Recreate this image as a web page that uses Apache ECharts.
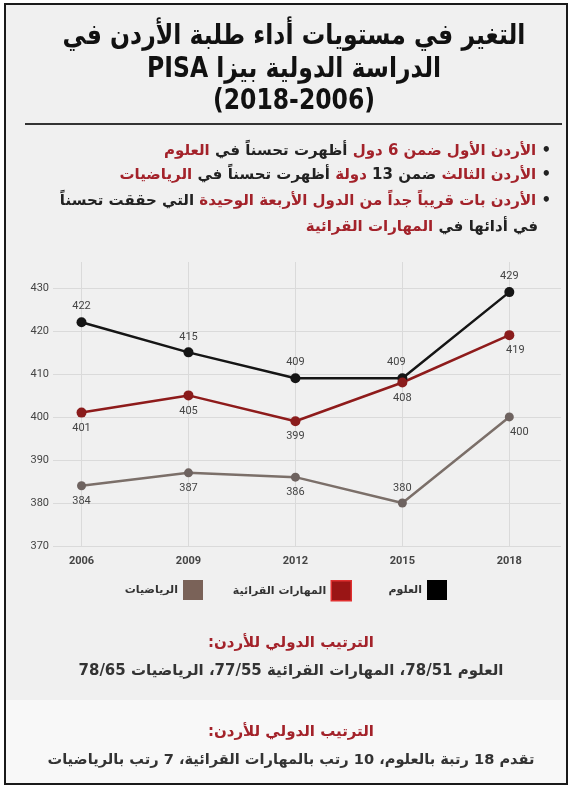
<!DOCTYPE html>
<html><head><meta charset="utf-8">
<script src="https://cdn.jsdelivr.net/npm/echarts@6/dist/echarts.min.js"></script>
<style>html,body{margin:0;padding:0;background:#fff}#c{width:571px;height:788px}</style>
</head><body><div id="c" dir="rtl"></div>
<script>
const years = [2006, 2009, 2012, 2015, 2018];
const science = [422, 415, 409, 409, 429];
const reading = [401, 405, 399, 408, 419];
const math = [384, 387, 386, 380, 400];
const yTicks = [370, 380, 390, 400, 410, 420, 430];
const names = ['العلوم', 'المهارات القرائية', 'الرياضيات'];
const titleLines = ['التغير في مستويات أداء طلبة الأردن في', 'الدراسة الدولية بيزا PISA', '(2018-2006)'];
const rankHeader = 'الترتيب الدولي للأردن:';
const rankLine = 'العلوم 78/51، المهارات القرائية 77/55، الرياضيات 78/65';
const progressLine = 'تقدم 18 رتبة بالعلوم، 10 رتب بالمهارات القرائية، 7 رتب بالرياضيات';

const AR = '"DejaVu Sans", sans-serif';
const RED = '#a3222a';
const DARK = '#222';
const colors = ['#151515', '#8e1b1b', '#7b6f69'];
const mathPos = ['bottom', 'bottom', 'bottom', 'top', 'bottom'];

function pts(vals, posArr, offsets) {
  return years.map((y, i) => {
    const it = { value: [y, vals[i]] };
    const lab = {};
    if (posArr) lab.position = posArr[i];
    if (offsets && offsets[i]) lab.offset = offsets[i];
    it.label = lab;
    return it;
  });
}

const chart = echarts.init(document.getElementById('c'));
const bulletFont = { fontFamily: AR, fontWeight: 'bold', fontSize: 15 };
const rich = { r: Object.assign({ fill: RED }, bulletFont), b: Object.assign({ fill: DARK }, bulletFont) };

function txt(text, x, y, opt, sx) {
  return { type: 'text', x: x, y: y, z: 10, scaleX: sx || 1, style: Object.assign({ text: text, align: 'center', verticalAlign: 'middle', textAlign: 'center', textVerticalAlign: 'middle', fontFamily: AR, fontWeight: 'bold' }, opt) };
}
function bullet(text, x, y) {
  return { type: 'text', x: x, y: y, z: 10, style: { text: text, rich: rich, align: 'right', textAlign: 'right', verticalAlign: 'middle', textVerticalAlign: 'middle' } };
}

const option = {
  backgroundColor: '#ffffff',
  animation: false,
  graphic: { elements: [
    { type: 'rect', z: -10, shape: { x: 5, y: 4, width: 562, height: 780 }, style: { fill: '#f0f0f0', stroke: '#1a1a1a', lineWidth: 2 } },
    { type: 'rect', z: -9, shape: { x: 6, y: 700, width: 560, height: 83 }, style: { fill: '#f8f8f8' } },
    txt(titleLines[0], 294, 37, { fontSize: 28, fill: '#111' }, 0.84),
    txt(titleLines[1], 294, 70, { fontSize: 28, fill: '#111' }, 0.84),
    txt(titleLines[2], 294, 102, { fontSize: 28, fill: '#111' }, 0.84),
    { type: 'line', z: 10, shape: { x1: 25, y1: 124, x2: 562, y2: 124 }, style: { stroke: '#333', lineWidth: 2 } },
    bullet('{r|العلوم}{b| أظهرت تحسناً في }{r|الأردن الأول ضمن 6 دول}{b|• }', 551, 151),
    bullet('{r|الرياضيات}{b| أظهرت تحسناً في }{r|دولة}{b| ضمن 13 }{r|الأردن الثالث}{b|• }', 551, 175),
    bullet('{b| التي حققت تحسناً}{r|الأردن بات قريباً جداً من الدول الأربعة الوحيدة}{b|• }', 551, 201),
    bullet('{r|المهارات القرائية}{b|في أدائها في }', 538, 227),
    txt(rankHeader, 291, 643, { fontSize: 15, fill: RED }),
    txt(rankLine, 291, 671, { fontSize: 15, fill: '#333' }),
    txt(rankHeader, 291, 732, { fontSize: 15, fill: RED }),
    txt(progressLine, 291, 760, { fontSize: 14.6, fill: '#333' })
  ] },
  grid: { left: 53, right: 10, top: 262, bottom: 242 },
  xAxis: {
    type: 'value', min: 2005.2, max: 2019.45,
    axisLine: { show: false },
    axisTick: { show: false, customValues: years },
    axisLabel: { customValues: years, margin: 10, fontSize: 11, fontWeight: 'bold', color: '#444', fontFamily: 'Roboto, sans-serif', formatter: v => String(v) },
    splitLine: { show: true, lineStyle: { color: '#dadada', width: 1 } }
  },
  yAxis: {
    type: 'value', min: 370, max: 436,
    axisLine: { show: false },
    axisTick: { show: false, customValues: yTicks },
    axisLabel: { customValues: yTicks, margin: 4, fontSize: 11, color: '#444', fontFamily: 'Roboto, sans-serif' },
    splitLine: { show: true, lineStyle: { color: '#dadada', width: 1 } }
  },
  legend: [
    { data: [{ name: names[2], itemStyle: { color: '#7a6258' } }], right: 571 - 203, top: 580 },
    { data: [{ name: names[1], itemStyle: { color: '#9a1515', borderColor: '#e03030', borderWidth: 1.5 } }], right: 571 - 352, top: 580 },
    { data: [{ name: names[0], itemStyle: { color: '#000' } }], right: 571 - 447, top: 580 }
  ].map(l => Object.assign({ align: 'right', icon: 'rect', itemWidth: 20, itemHeight: 20, padding: 0, selectedMode: false, textStyle: { fontSize: 11, fontWeight: 'bold', color: '#333', fontFamily: AR } }, l)),
  series: [
    { name: names[0], type: 'line', data: pts(science, null, [null, null, null, [-6, 0], null]), symbol: 'circle', symbolSize: 10,
      lineStyle: { color: colors[0], width: 2.5 }, itemStyle: { color: colors[0] },
      label: { show: true, position: 'top', distance: 5, fontSize: 11, color: '#444', fontFamily: 'Roboto, sans-serif', formatter: p => p.value[1] } },
    { name: names[1], type: 'line', data: pts(reading, null, [null, null, null, null, [6, 0]]), symbol: 'circle', symbolSize: 10,
      lineStyle: { color: colors[1], width: 2.5 }, itemStyle: { color: '#8a1c1c' },
      label: { show: true, position: 'bottom', distance: 5, fontSize: 11, color: '#444', fontFamily: 'Roboto, sans-serif', formatter: p => p.value[1] } },
    { name: names[2], type: 'line', data: pts(math, mathPos, [null, null, null, null, [10, 0]]), symbol: 'circle', symbolSize: 9,
      lineStyle: { color: colors[2], width: 2.5 }, itemStyle: { color: '#6e6360' },
      label: { show: true, distance: 5, fontSize: 11, color: '#444', fontFamily: 'Roboto, sans-serif', formatter: p => p.value[1] } }
  ]
};
chart.setOption(option);
</script></body></html>
